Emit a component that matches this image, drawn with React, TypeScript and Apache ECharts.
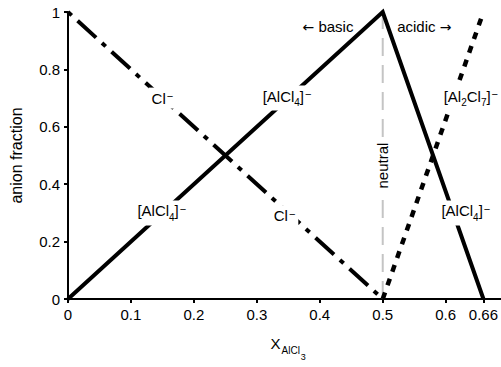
import { useEffect, useRef } from "react";
import * as echarts from "echarts";

const FONT = '"Liberation Sans", Arial, Helvetica, sans-serif';

// Axis ticks
const xTickValues = [0, 0.1, 0.2, 0.3, 0.4, 0.5, 0.6, 0.66];
const yTickValues = [0, 0.2, 0.4, 0.6, 0.8, 1];

// Anion fractions against mole fraction of AlCl3
const chlorideX = [0, 0.5];
const chlorideY = [1, 0];
const tetraX = [0, 0.5, 0.66];
const tetraY = [0, 1, 0];
const heptaX = [0.5, 0.66];
const heptaY = [0, 1];
const neutralX = [0.5, 0.5];
const neutralY = [0, 1];

// In-plot annotations (rich text), their anchor values and whether they mask the lines
const noteText = [
  "{m|Cl}{p|−}",
  "{m|[AlCl}{s|4}{m|]}{p|−}",
  "{m|[AlCl}{s|4}{m|]}{p|−}",
  "{m|Cl}{p|−}",
  "{m|[AlCl}{s|4}{m|]}{p|−}",
  "{m|[Al}{s|2}{m|Cl}{s|7}{m|]}{p|−}",
  "{r|←}{m| basic}",
  "{m|acidic }{r|→}",
  "{m|neutral}",
];
const noteX = [0.15, 0.348, 0.149, 0.344, 0.632, 0.64, 0.413, 0.566, 0.5];
const noteY = [0.7, 0.7, 0.3, 0.29, 0.3, 0.7, 0.95, 0.95, 0.465];
const noteMask = [true, true, true, true, true, true, false, false, true];
const noteRotate = [0, 0, 0, 0, 0, 0, 0, 0, 90];

const pairs = (xs: number[], ys: number[]) => xs.map((x, i) => [x, ys[i]]);

const rich = {
  m: { fontSize: 15, fontFamily: FONT, color: "#000", verticalAlign: "top" },
  s: { fontSize: 10, fontFamily: FONT, color: "#000", verticalAlign: "top", padding: [9, 0, 0, 0] },
  p: { fontSize: 11, fontFamily: FONT, color: "#000", verticalAlign: "top", padding: [0, 0, 0, 1] },
  r: { fontSize: 14, fontFamily: '"DejaVu Sans", sans-serif', color: "#000", verticalAlign: "top", padding: [1, 0, 0, 0] },
};

export default function App() {
  const ref = useRef<HTMLDivElement>(null);

  useEffect(() => {
    if (!ref.current) return;
    const chart = echarts.init(ref.current, undefined, { renderer: "svg" });

    const lineBase = { type: "line", symbol: "none", clip: false, silent: true };

    chart.setOption({
      animation: false,
      backgroundColor: "#fff",
      grid: { left: 67, right: 0, top: 12, bottom: 68, containLabel: false },
      xAxis: {
        type: "value",
        min: 0,
        max: 0.687,
        name: "{x|X}{a|AlCl}{b|3}",
        nameLocation: "middle",
        nameGap: 37,
        nameTextStyle: {
          padding: [0, 0, 0, 8],
          rich: {
            x: { fontSize: 15, fontFamily: FONT, color: "#000", verticalAlign: "top" },
            a: { fontSize: 10, fontFamily: FONT, color: "#000", verticalAlign: "top", padding: [9, 0, 0, 1] },
            b: { fontSize: 9, fontFamily: FONT, color: "#000", verticalAlign: "top", padding: [16, 0, 0, 1] },
          },
        },
        splitLine: { show: false },
        axisLine: { show: true, onZero: false, lineStyle: { color: "#000", width: 2 } },
        axisTick: { show: true, customValues: xTickValues, length: 4, lineStyle: { color: "#000", width: 2 } },
        axisLabel: {
          customValues: xTickValues,
          color: "#000",
          fontSize: 15,
          fontFamily: FONT,
          margin: 8,
          formatter: (v: number) => String(+v.toFixed(2)),
        },
      },
      yAxis: {
        type: "value",
        min: 0,
        max: 1,
        interval: 0.2,
        name: "anion fraction",
        nameLocation: "middle",
        nameGap: 44,
        nameTextStyle: { fontSize: 16, fontFamily: FONT, color: "#000" },
        splitLine: { show: false },
        axisLine: { show: true, lineStyle: { color: "#000", width: 2 } },
        axisTick: { show: true, length: 4, lineStyle: { color: "#000", width: 2 } },
        axisLabel: {
          customValues: yTickValues,
          color: "#000",
          fontSize: 15,
          fontFamily: FONT,
          margin: 8,
          formatter: (v: number) => String(+v.toFixed(1)),
        },
      },
      series: [
        { ...lineBase, name: "neutral", data: pairs(neutralX, neutralY), z: 1, lineStyle: { color: "#c4c4c4", width: 2, type: [18, 9] } },
        { ...lineBase, name: "Cl-", data: pairs(chlorideX, chlorideY), z: 2, lineStyle: { color: "#000", width: 4, type: [25, 8, 5, 8], dashOffset: 33, cap: "butt" } },
        { ...lineBase, name: "AlCl4-", data: pairs(tetraX, tetraY), z: 3, lineStyle: { color: "#000", width: 4, join: "miter", cap: "butt" } },
        { ...lineBase, name: "Al2Cl7-", data: pairs(heptaX, heptaY), z: 3, lineStyle: { color: "#000", width: 4.5, type: [7, 7.5], cap: "butt" } },
        {
          // text labels placed at data positions; white boxes break the lines beneath
          type: "scatter",
          name: "notes",
          silent: true,
          z: 10,
          symbolSize: 1,
          itemStyle: { color: "rgba(0,0,0,0)", opacity: 1 },
          data: noteText.map((t, i) => ({
            value: [noteX[i], noteY[i]],
            label: {
              show: true,
              position: "inside",
              formatter: t,
              rotate: noteRotate[i],
              rich,
              opacity: 1,
              backgroundColor: noteMask[i] ? "#ffffff" : "transparent",
              padding: noteMask[i] ? [3, 3, 3, 3] : 0,
            },
          })),
        },
      ],
    });

    return () => chart.dispose();
  }, []);

  return <div ref={ref} style={{ position: "absolute", left: 0, top: 0, width: 501, height: 367 }} />;
}
